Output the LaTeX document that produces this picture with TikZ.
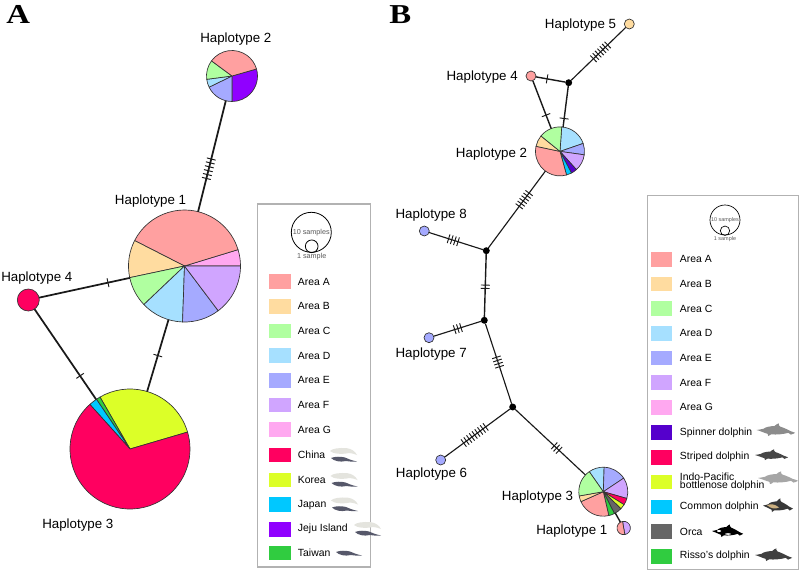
\documentclass[tikz,border=0pt]{standalone}
\usepackage{fontspec}
\setmainfont{Liberation Sans}
\newfontfamily\panelfont[FakeStretch=1.2]{Liberation Serif}
\usetikzlibrary{decorations.markings}

\definecolor{areaA}{HTML}{FFA0A0}
\definecolor{areaB}{HTML}{FFDCA0}
\definecolor{areaC}{HTML}{B0FFA0}
\definecolor{areaD}{HTML}{A6E0FF}
\definecolor{areaE}{HTML}{A5AAFF}
\definecolor{areaF}{HTML}{D0A5FF}
\definecolor{areaG}{HTML}{FFA8F0}
\definecolor{china}{HTML}{FF0060}
\definecolor{korea}{HTML}{DCFF28}
\definecolor{japan}{HTML}{00C8FF}
\definecolor{jeju}{HTML}{9000FF}
\definecolor{taiwan}{HTML}{30CC40}
\definecolor{spinner}{HTML}{5500CC}
\definecolor{orca}{HTML}{666666}
\definecolor{paleback}{HTML}{E4E4DE}
\definecolor{slateback}{HTML}{56586A}

\tikzset{
  x=0.75pt, y=0.75pt,
  hapnode/.style={circle, inner sep=0pt, outer sep=0pt},
  slice/.style={draw=black!80, line width=0.5pt, line join=round},
  linkA/.style={line width=1.3pt, black!90},
  linkB/.style={line width=0.85pt, black!90},
  joint/.style={circle, fill=black, inner sep=0pt, outer sep=0pt, minimum size=5.2pt},
  hatched/.style n args={3}{postaction={decorate, decoration={markings,
    mark=at position #1 with {\foreach \i in {1,...,#2}{
      \draw[line width=0.7pt, black!90] ({(\i-(#2+1)/2)*#3},-4.5) -- ++(0,9);}}}}},
  haplabel/.style={anchor=base west, inner sep=0pt, font=\fontsize{10}{12}\selectfont},
  panel/.style={anchor=base west, inner sep=0pt, font=\panelfont\bfseries\fontsize{20.5}{24}\selectfont},
  legendbox/.style={draw=black!30, line width=0.9pt, fill=white},
  swatch/.style={rectangle, inner sep=0pt, outer sep=0pt, minimum width=16.5pt, minimum height=11.2pt},
  legendtext/.style={anchor=west, inner sep=0pt, font=\fontsize{7.8}{9}\selectfont},
  paleporpoise/.pic={
    \fill[pic actions] (0,-3) .. controls (2,-0.5) and (10,0.5) .. (17,-0.2)
      .. controls (21,-0.8) and (25,-3) .. (27,-7)
      .. controls (24,-5.5) and (22,-5.5) .. (19,-5)
      .. controls (12,-6.5) and (3,-6) .. (0,-3) -- cycle;},
  slateporpoise/.pic={
    \fill[pic actions] (0,-2) .. controls (4,-0.3) and (10,-0.5) .. (14,-1.5)
      .. controls (17,-2.6) and (19,-4) .. (26,-5.5)
      .. controls (21,-5.8) and (18,-5.6) .. (15,-5)
      .. controls (9,-6.5) and (3,-5) .. (0,-2) -- cycle;},
  dolphin/.pic={
    \fill[pic actions] (0,-7) .. controls (3,-6.6) and (5,-6.2) .. (7,-5.8)
      .. controls (9,-4) and (14,-3.2) .. (18.5,-3)
      .. controls (20,-1.8) and (21.5,-0.6) .. (23,-0.4)
      .. controls (22.6,-1.5) and (23,-2.8) .. (24.5,-3.6)
      .. controls (29,-5) and (33,-7) .. (35,-8)
      .. controls (37,-8.4) and (38.5,-9) .. (40,-9.8)
      .. controls (38.5,-10.6) and (37,-11.4) .. (35.5,-11.6)
      .. controls (35,-10.6) and (34,-10) .. (33,-9.8)
      .. controls (28,-11.2) and (21,-11.8) .. (15,-11.4)
      .. controls (14.5,-12.2) and (13.5,-13) .. (12,-13)
      .. controls (12,-12.2) and (11.8,-11.4) .. (11.4,-10.8)
      .. controls (8,-10) and (4,-8) .. (0,-7) -- cycle;},
}

% A haplotype drawn as a named circular node filled with pie slices
\newcommand{\pienode}[5]{%
  \node[hapnode, minimum size=#4*1.5pt] (#1) at (#2,-#3) {};
  \foreach \s/\e/\c in {#5} {
    \filldraw[slice, fill=\c] (#1.center) -- ++(\s:#4)
      arc[start angle=\s, end angle=\e, radius=#4] -- cycle;
  }
}
\newcommand{\dotnode}[5]{%
  \node[hapnode, draw=black!80, line width=0.5pt, fill=#5, minimum size=#4*1.5pt] (#1) at (#2,-#3) {};
}

\begin{document}
\begin{tikzpicture}
\useasboundingbox (0,0) rectangle (800,-571);

% ---- Panel A: network ----
\node[panel] (panelA) at (6,-23) {A};

\pienode{aH2}{232}{76}{25.5}{16/-90/jeju, -90/-154/areaE, -154/-172.5/areaD, -172.5/-216.4/areaC, -216.4/-344/areaA}
\pienode{aH1}{184.5}{266}{56}{0/17/areaG, 17/153/areaA, 153/192/areaB, 192/223.5/areaC, 223.5/268/areaD, 268/307/areaE, 307/360/areaF}
\pienode{aH3}{130}{449}{60}{16.4/120/korea, 120/124/taiwan, 124/132/japan, 132/376.4/china}
\dotnode{aH4}{28.3}{300}{11}{china}

\draw[linkA, hatched={0.613}{6}{4}] (aH2) -- (aH1);
\draw[linkA, hatched={0.76}{1}{0}] (aH4) -- (aH1);
\draw[linkA, hatched={0.74}{1}{0}] (aH4) -- (aH3);
\draw[linkA, hatched={0.50}{1}{0}] (aH1) -- (aH3);

\node[haplabel] (laH2) at (200,-42) {Haplotype 2};
\node[haplabel] (laH1) at (114.7,-204) {Haplotype 1};
\node[haplabel] (laH4) at (1,-281) {Haplotype 4};
\node[haplabel] (laH3) at (42,-528) {Haplotype 3};

% ---- Panel A: legend ----
\draw[legendbox] (257.3,-204) rectangle (370.7,-567);
\node[hapnode, draw=black, line width=0.6pt, minimum size=30pt] (aScaleBig) at (311.3,-232.3) {};
\node[hapnode, draw=black, line width=0.6pt, minimum size=9.5pt] (aScaleSmall) at (311.7,-246.3) {};
\node[inner sep=0pt, text=black!65, font=\fontsize{5.4}{6}\selectfont] (aScaleBigText) at (311.3,-232.7) {10 samples};
\node[inner sep=0pt, text=black!65, font=\fontsize{5.4}{6}\selectfont] (aScaleSmallText) at (311.7,-256.3) {1 sample};
\foreach \k/\yy/\c/\t in {
  1/281.7/areaA/Area A, 2/306.3/areaB/Area B, 3/331/areaC/Area C, 4/355.7/areaD/Area D,
  5/380.3/areaE/Area E, 6/405/areaF/Area F, 7/429.7/areaG/Area G, 8/455/china/China,
  9/480/korea/Korea, 10/504.7/japan/Japan, 11/529.3/jeju/Jeju Island, 12/553/taiwan/Taiwan} {
  \node[swatch, fill=\c] (aSw\k) at (280,-\yy) {};
  \node[legendtext] (aLb\k) at (297.7,-\yy) {\t};
}
\foreach \xx/\yy in {330/448, 330.5/473, 331/497.5, 354/522} {
  \pic[fill=paleback] at (\xx,-\yy) {paleporpoise};
}
\foreach \xx/\yy in {331/456, 331.5/481, 332/505.5, 355/530, 336/550} {
  \pic[fill=slateback] at (\xx,-\yy) {slateporpoise};
}

% ---- Panel B: network ----
\node[panel] (panelB) at (389,-23) {B};

\pienode{bH2}{560}{151.4}{24.5}{86/19/areaD, 19/-8/areaE, -8/-48/areaF, -48/-62/spinner, -62/-74.5/japan, -74.5/-192/areaA, -192/-219/areaB, -219/-274/areaC}
\pienode{bH3}{603.3}{491.7}{24.5}{125/88/areaD, 88/33.7/areaE, 33.7/-16/areaF, -16/-32/china, -32/-44/korea, -44/-63/orca, -63/-77/taiwan, -77/-156/areaA, -156/-170/areaB, -170/-235/areaC}
\pienode{bH1}{623.7}{528}{6.7}{100/-80/areaF, -80/-260/areaA}
\dotnode{bH5}{629.3}{24}{5}{areaB}
\dotnode{bH4}{531}{76}{5}{areaA}
\dotnode{bH8}{424.3}{231}{5}{areaE}
\dotnode{bH7}{429}{337.7}{5}{areaE}
\dotnode{bH6}{440.7}{460}{5}{areaE}
\node[joint] (bJ1) at (568.7,-82.7) {};
\node[joint] (bJ2) at (486.3,-250.7) {};
\node[joint] (bJ3) at (484.3,-320.3) {};
\node[joint] (bJ4) at (512.7,-407) {};

\draw[linkB, hatched={0.462}{7}{3.3}] (bH5) -- (bJ1);
\draw[linkB, line width=1.05pt, hatched={0.38}{1}{0}] (bH4) -- (bJ1);
\draw[linkB, line width=1.05pt, hatched={0.72}{1}{0}] (bH4) -- (bH2);
\draw[linkB, line width=1.05pt, hatched={0.79}{1}{0}] (bJ1) -- (bH2);
\draw[linkB, hatched={0.373}{6}{3.3}] (bH2) -- (bJ2);
\draw[linkB, hatched={0.45}{4}{3.3}] (bH8) -- (bJ2);
\draw[linkB, line width=1.05pt, hatched={0.52}{2}{3.3}] (bJ2) -- (bJ3);
\draw[linkB, hatched={0.51}{3}{3.3}] (bH7) -- (bJ3);
\draw[linkB, hatched={0.48}{4}{3.3}] (bJ3) -- (bJ4);
\draw[linkB, hatched={0.46}{9}{3.4}] (bH6) -- (bJ4);
\draw[linkB, hatched={0.59}{3}{3.3}] (bJ4) -- (bH3);
\draw[linkB, line width=1.05pt] (bH3) -- (bH1);

\node[haplabel] (lbH5) at (544.7,-28) {Haplotype 5};
\node[haplabel] (lbH4) at (446.3,-80) {Haplotype 4};
\node[haplabel] (lbH2) at (455.7,-157.3) {Haplotype 2};
\node[haplabel] (lbH8) at (395.3,-218.3) {Haplotype 8};
\node[haplabel] (lbH7) at (395.3,-357.3) {Haplotype 7};
\node[haplabel] (lbH6) at (395.7,-477.3) {Haplotype 6};
\node[haplabel] (lbH3) at (501.7,-500.7) {Haplotype 3};
\node[haplabel] (lbH1) at (536,-534) {Haplotype 1};

% ---- Panel B: legend ----
\draw[legendbox] (647.7,-195.7) rectangle (798.5,-569.3);
\node[hapnode, draw=black, line width=0.5pt, minimum size=22.5pt] (bScaleBig) at (725,-220) {};
\node[hapnode, draw=black, line width=0.5pt, minimum size=7pt] (bScaleSmall) at (725,-230.7) {};
\node[inner sep=0pt, text=black!65, font=\fontsize{4.1}{5}\selectfont] (bScaleBigText) at (725,-220.5) {10 samples};
\node[inner sep=0pt, text=black!65, font=\fontsize{4.1}{5}\selectfont] (bScaleSmallText) at (725,-239) {1 sample};
\foreach \k/\yy/\c/\t in {
  1/259.3/areaA/Area A, 2/284/areaB/Area B, 3/308.7/areaC/Area C, 4/333.3/areaD/Area D,
  5/358/areaE/Area E, 6/382.7/areaF/Area F, 7/407.3/areaG/Area G, 8/432.7/spinner/Spinner dolphin,
  9/457.3/china/Striped dolphin, 11/507/japan/Common dolphin, 12/531.7/orca/Orca,
  13/556.3/taiwan/Risso's dolphin} {
  \node[swatch, fill=\c, minimum width=16pt] (bSw\k) at (661.7,-\yy) {};
  \node[legendtext] (bLb\k) at (679.7,-\yy) {\t};
}
\node[swatch, fill=korea, minimum width=16pt] (bSw10) at (661.7,-482) {};
\node[legendtext, align=left, font=\fontsize{7.8}{6.3}\selectfont] (bLb10) at (679.7,-482) {Indo-Pacific\\bottlenose dolphin};

% Dolphin silhouettes beside the species names
\pic[fill=black!45, xscale=0.96, yscale=1.0] at (756.7,-423) {dolphin};
\pic[fill=black!72, xscale=0.83, yscale=0.85] at (755,-449) {dolphin};
\pic[fill=black!35, xscale=1.0, yscale=1.0] at (758,-471) {dolphin};
\pic[fill=black!78, xscale=0.75, yscale=1.08] at (763,-498) {dolphin};
\fill[areaB!80!black] (767,-505.2) .. controls (772,-503) and (776,-505) .. (779,-507.5)
  .. controls (775,-509.5) and (771,-508.5) .. (767,-505.2) -- cycle;
\pic[fill=black, xscale=0.78, yscale=1.0] at (712,-524) {dolphin};
\fill[white] (719,-531) ellipse (2 and 1);
\fill[white] (728,-534) ellipse (3 and 0.8);
\pic[fill=black!75, xscale=0.93, yscale=1.0] at (755,-548) {dolphin};
\end{tikzpicture}
\end{document}
